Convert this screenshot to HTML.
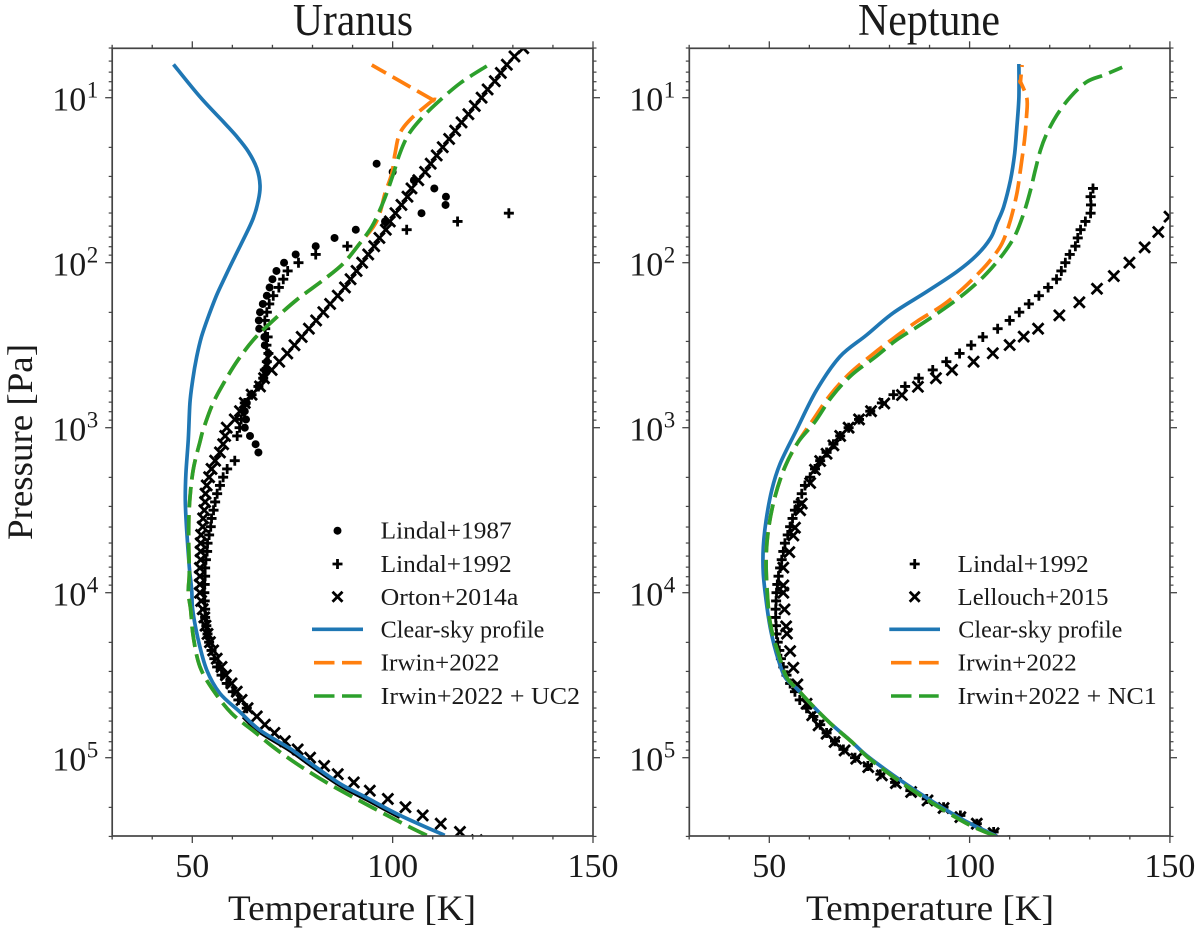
<!DOCTYPE html>
<html lang="en">
<head>
<meta charset="utf-8">
<title>Uranus and Neptune temperature-pressure profiles</title>
<style>
html,body{margin:0;padding:0;background:#fff;width:1200px;height:934px;overflow:hidden}
svg{display:block}
text{font-family:"Liberation Serif",serif;fill:#1a1a1a}
.leg{font-size:24px}
</style>
</head>
<body>
<svg id="chart" xmlns="http://www.w3.org/2000/svg" width="1200" height="934" viewBox="0 0 1200 934">
<rect width="1200" height="934" fill="#fff"/>
<defs>
<clipPath id="clip-u"><rect x="112.2" y="48.3" width="480.8" height="787.7"/></clipPath>
<clipPath id="clip-n"><rect x="689.3" y="48.3" width="480.7" height="787.7"/></clipPath>
</defs>
<g id="panel-u"></g>
<g id="panel-n"></g>

<text x="353" y="35" font-size="45" text-anchor="middle" textLength="120" lengthAdjust="spacingAndGlyphs">Uranus</text>
<text x="929" y="35" font-size="45" text-anchor="middle" textLength="142" lengthAdjust="spacingAndGlyphs">Neptune</text>
<text x="352" y="920" font-size="36" text-anchor="middle" textLength="248" lengthAdjust="spacingAndGlyphs">Temperature [K]</text>
<text x="930" y="920" font-size="36" text-anchor="middle" textLength="248" lengthAdjust="spacingAndGlyphs">Temperature [K]</text>
<text transform="translate(32,442) rotate(-90)" font-size="36" text-anchor="middle" textLength="196" lengthAdjust="spacingAndGlyphs">Pressure [Pa]</text>

<g>
  <circle cx="337.5" cy="530.7" r="4" fill="#000"/>
  <path d="M332.5 564H342.5M337.5 559V569" stroke="#000" stroke-width="2.8" fill="none"/>
  <path d="M332.5 591.7L342.5 601.7M342.5 591.7L332.5 601.7" stroke="#000" stroke-width="2.8" fill="none"/>
  <line x1="312" x2="363" y1="629.3" y2="629.3" stroke="#1f77b4" stroke-width="3.6"/>
  <path d="M314 662.7H334.5M342 662.7H361.7" stroke="#ff7f0e" stroke-width="3.6" fill="none"/>
  <path d="M314 696H334.5M342 696H361.7" stroke="#2ca02c" stroke-width="3.6" fill="none"/>
  <text class="leg" x="380.7" y="538.5" textLength="131" lengthAdjust="spacingAndGlyphs">Lindal+1987</text>
  <text class="leg" x="380.7" y="571.8" textLength="131" lengthAdjust="spacingAndGlyphs">Lindal+1992</text>
  <text class="leg" x="380.7" y="604.8" textLength="137.7" lengthAdjust="spacingAndGlyphs">Orton+2014a</text>
  <text class="leg" x="380.7" y="637.5" textLength="163.7" lengthAdjust="spacingAndGlyphs">Clear-sky profile</text>
  <text class="leg" x="380.7" y="670.5" textLength="118.7" lengthAdjust="spacingAndGlyphs">Irwin+2022</text>
  <text class="leg" x="380.7" y="704" textLength="199.3" lengthAdjust="spacingAndGlyphs">Irwin+2022 + UC2</text>
</g>

<g>
  <path d="M909.7 564H919.7M914.7 559V569" stroke="#000" stroke-width="2.8" fill="none"/>
  <path d="M909.7 591.7L919.7 601.7M919.7 591.7L909.7 601.7" stroke="#000" stroke-width="2.8" fill="none"/>
  <line x1="889.3" x2="940" y1="629.3" y2="629.3" stroke="#1f77b4" stroke-width="3.6"/>
  <path d="M891 662.7H911.5M919 662.7H938.7" stroke="#ff7f0e" stroke-width="3.6" fill="none"/>
  <path d="M891 696H911.5M919 696H938.7" stroke="#2ca02c" stroke-width="3.6" fill="none"/>
  <text class="leg" x="957.7" y="571.8" textLength="131" lengthAdjust="spacingAndGlyphs">Lindal+1992</text>
  <text class="leg" x="957.7" y="604.8" textLength="150.7" lengthAdjust="spacingAndGlyphs">Lellouch+2015</text>
  <text class="leg" x="958.3" y="637.5" textLength="164" lengthAdjust="spacingAndGlyphs">Clear-sky profile</text>
  <text class="leg" x="957.7" y="670.5" textLength="119" lengthAdjust="spacingAndGlyphs">Irwin+2022</text>
  <text class="leg" x="957.7" y="704" textLength="199" lengthAdjust="spacingAndGlyphs">Irwin+2022 + NC1</text>
</g>
</svg>

<script>
// Tick values
const xMajorTicks = [50, 100, 150];
const xMinorTicks = [30, 40, 60, 70, 80, 90, 110, 120, 130, 140];
const yMajorExponents = [1, 2, 3, 4, 5];
const yMinorMultipliers = [2, 3, 4, 5, 6, 7, 8, 9];

// Uranus: temperature in K and log10(pressure / Pa)
const uranusClearT = [45.3,51.9,57.7,61.1,64,66.1,66.9,66.5,65.2,63.1,60.6,58.2,56.1,54,52.3,51.1,50.1,49.4,49,48.4,48.25,48.6,49.25,49.85,50.1,51.5,53.6,56.9,61.9,66.9,74.4,80.2,86.9,93.5,101.8,113];
const uranusClearP = [0.798,0.994,1.145,1.236,1.327,1.428,1.529,1.62,1.731,1.842,1.964,2.085,2.196,2.327,2.448,2.57,2.711,2.853,3.07,3.279,3.44,3.622,3.844,3.984,4.105,4.287,4.468,4.61,4.723,4.834,4.945,5.046,5.158,5.242,5.349,5.471];
const uranusIrwinT = [94.8,110.1,110.1,104.7,101.8,100.6,99.8,98.1,96.8,95.2,91.8,87.7,82.7,76,69.4,65.2,61.1,57.3,54.8,52.7,51.9,50.2,49.25,49.1,49.25,49,49.6,50.25,51.9,55.2,59.8,65.6,70.2,76,81.9,88.5,101.8,108.5];
const uranusIrwinP = [0.802,1.014,1.014,1.125,1.216,1.337,1.459,1.58,1.7,1.782,1.883,2.004,2.105,2.226,2.368,2.469,2.6,2.752,2.873,3.014,3.087,3.259,3.48,3.683,3.885,3.998,4.105,4.267,4.448,4.59,4.731,4.844,4.935,5.036,5.127,5.218,5.39,5.471];
const uranusCloudT = [123.5,116.8,111,106.8,103.9,101.8,100.2,98.5,96.8,94.8,91.8,87.7,82.7,76,69.4,65.2,61.1,57.3,54.8,52.7,51.9,50.2,49.25,49.1,49.25,49,49.6,50.25,51.9,55.2,59.8,65.6,70.2,76,81.9,88.5,101.8,108.5];
const uranusCloudP = [0.808,0.913,1.034,1.135,1.226,1.337,1.459,1.58,1.681,1.782,1.883,2.004,2.105,2.226,2.368,2.469,2.6,2.752,2.873,3.014,3.087,3.259,3.48,3.683,3.885,3.998,4.105,4.267,4.448,4.59,4.731,4.844,4.935,5.036,5.127,5.218,5.39,5.471];
const lindal87T = [96,100,105.3,110.4,113.3,113.2,107.2,98.1,90.8,85.5,80.8,75.8,72.9,71,70,69.3,68.6,67.6,66.9,66.6,66.7,68,68.1,69,68.6,68.1,67.7,66.5,64.8,63.6,63.1,63.4,63.1,64.4,65.8,66.5];
const lindal87P = [1.4,1.45,1.5,1.55,1.6,1.65,1.7,1.75,1.8,1.85,1.9,1.95,2,2.05,2.1,2.15,2.2,2.25,2.3,2.35,2.4,2.45,2.5,2.55,2.6,2.65,2.7,2.75,2.8,2.85,2.9,2.95,3,3.05,3.1,3.15];
const lindal92UranusT = [129,116.2,103.5,88.7,80.8,76.5,73.8,72.7,71.6,70.2,69.2,68.6,68.1,68.2,68.8,68.5,69,68.6,68.1,67.7,66.5,64.8,63.1,62.7,62.2,61.8,61.2,60.6,58.7,57.7,56.9,56.2,55.7,55.3,54.8,54.6,54.2,53.8,53.7,53.4,53.2,53.2,53.1,53,53.1,53.2,53.2,53.5,53.8,54.2,54.8,55.5,56.2,57.3,58.6,60.1,61.5,63.6];
const lindal92UranusP = [1.7,1.75,1.8,1.9,1.95,2,2.05,2.1,2.15,2.2,2.25,2.3,2.35,2.4,2.45,2.5,2.55,2.6,2.65,2.7,2.75,2.8,2.85,2.9,2.95,3,3.05,3.2,3.25,3.3,3.35,3.4,3.45,3.5,3.55,3.6,3.65,3.7,3.75,3.8,3.85,3.9,3.95,4,4.05,4.1,4.15,4.2,4.25,4.3,4.35,4.4,4.45,4.5,4.55,4.6,4.65,4.7];
const lindal92TraceT = [62.7,66.9,74.4,80.2,86.9,93.5,101.8];
const lindal92TraceP = [4.752,4.844,4.956,5.057,5.168,5.253,5.36];
const ortonT = [132.6,130.4,128.5,127,125.5,123.7,122.2,120.5,118.9,117.2,115.6,114.1,112.5,111,109.5,108.1,106.4,104.7,103.7,102.2,100.7,99.3,98.3,96.7,95.4,93.9,92.4,91,89.5,88.1,86.3,84.4,82.7,80.9,79.1,77.3,75.5,73.7,71.7,69.8,67.9,66.9,64.8,63.1,61.9,60.6,58.6,58.2,57.7,56.9,55.7,54.8,54.2,53.6,53.3,53.2,53,52.7,52.6,52.2,52.1,52.1,52.1,51.9,51.9,51.9,51.9,52.2,52.6,53,53.3,53.8,54.4,55.2,56.1,57.3,58.4,59.8,61.1,62.3,63.8,66.1,68.1,70.5,73.1,76.3,79.4,82.9,86.3,90.3,94.3,98.8,103.2,107.5,112,116.8,121];
const ortonP = [0.7,0.75,0.8,0.85,0.9,0.95,1,1.05,1.1,1.15,1.2,1.25,1.3,1.35,1.4,1.45,1.5,1.55,1.6,1.65,1.7,1.75,1.8,1.85,1.9,1.95,2,2.05,2.1,2.15,2.2,2.25,2.3,2.35,2.4,2.45,2.5,2.55,2.6,2.65,2.7,2.75,2.8,2.85,2.9,2.95,3,3.05,3.1,3.15,3.2,3.25,3.3,3.35,3.4,3.45,3.5,3.55,3.6,3.65,3.7,3.75,3.8,3.85,3.9,3.95,4,4.05,4.1,4.15,4.2,4.25,4.3,4.35,4.4,4.45,4.5,4.55,4.6,4.65,4.7,4.75,4.8,4.85,4.9,4.95,5,5.05,5.1,5.15,5.2,5.25,5.3,5.35,5.4,5.45,5.5];

// Neptune: temperature in K and log10(pressure / Pa)
const neptuneClearT = [112.3,112.3,111.8,111.25,110.2,108.5,106.8,105.2,101.8,96.8,89.3,80.9,74.3,67.6,61.8,56.8,52.7,50.6,49.2,48.5,48.5,49.2,50.2,51.8,53.9,56.8,60.6,65.2,70.2,74.3,81,87.7,94.3,100.2,106.8];
const neptuneClearP = [0.796,1,1.176,1.337,1.499,1.661,1.762,1.853,1.954,2.055,2.176,2.305,2.438,2.57,2.772,3.014,3.218,3.38,3.562,3.723,3.885,4.046,4.208,4.37,4.511,4.58,4.68,4.79,4.895,4.986,5.107,5.218,5.319,5.4,5.475];
const neptuneIrwinT = [113.1,112.7,112.7,114.3,114.2,113.7,112.8,111.8,110.2,108.1,105.2,102.6,98.4,93.4,86.8,81,75.6,70.1,65.2,60.9,57.2,53.9,51.4,49.75,49.2,49.75,50.6,52.3,54.3,57.2,61,65.6,70.6,74.5,81,87.7,94.3,100.2,106.4];
const neptuneIrwinP = [0.802,0.903,0.903,1.004,1.115,1.257,1.418,1.58,1.741,1.883,1.984,2.055,2.155,2.256,2.357,2.458,2.559,2.67,2.802,2.953,3.087,3.238,3.42,3.622,3.824,4.087,4.228,4.37,4.511,4.59,4.69,4.8,4.905,4.996,5.117,5.228,5.329,5.41,5.475];
const neptuneCloudT = [138.1,133.5,129.3,125.2,121.8,119.3,117.7,116.4,115.2,113.5,111.4,108.5,104.3,99.3,93.4,87.6,81.8,76.4,70.6,65.6,61.4,57.2,53.9,51.4,49.75,49.2,49.75,50.6,52.3,54.3,57.2,61,65.6,70.6,74.5,81,87.7,94.3,100.2,106.4];
const neptuneCloudP = [0.816,0.863,0.903,0.994,1.105,1.216,1.317,1.438,1.56,1.701,1.832,1.943,2.064,2.176,2.283,2.378,2.468,2.573,2.68,2.812,2.964,3.087,3.238,3.42,3.622,3.824,4.087,4.228,4.37,4.511,4.59,4.69,4.8,4.905,4.996,5.117,5.228,5.329,5.41,5.475];
const lindal92NeptuneT = [130.8,130.2,130.3,130.2,128.9,127.7,127,126.4,125,123.9,122.9,121.7,119.6,117.3,114.8,112.4,110,107,103.3,100.4,97.5,94.2,90.8,87.3,83.9,81,78.1,75.2,72.4,69.8,67.7,66,64.3,62.7,61.4,60.2,58.9,58.1,57.2,56.4,55.8,55.2,54.6,53.9,53.5,53.1,52.7,52.3,52,51.8,51.7,51.6,51.6,51.7,51.8,52.1,52.5,52.9,53.5,54.3,55.2,56.4,57.6,59.3,61,62.7,64.3,66.4,68.5,71.4,74.6,77.7,81.4,85.2,89.3,93.5,97.7,101.8,106,109.8];
const lindal92NeptuneP = [1.55,1.6,1.65,1.7,1.75,1.8,1.85,1.9,1.95,2,2.05,2.1,2.15,2.2,2.25,2.3,2.35,2.4,2.45,2.5,2.55,2.6,2.65,2.7,2.75,2.8,2.85,2.9,2.95,3,3.05,3.1,3.15,3.2,3.25,3.3,3.35,3.4,3.45,3.5,3.55,3.6,3.65,3.7,3.75,3.8,3.85,3.9,3.95,4,4.05,4.1,4.15,4.2,4.25,4.3,4.35,4.4,4.45,4.5,4.55,4.6,4.65,4.7,4.75,4.8,4.85,4.9,4.95,5,5.05,5.1,5.15,5.2,5.25,5.3,5.35,5.4,5.45,5.5];
const lellouchT = [149.9,147.1,143.7,139.9,136,131.8,127.4,122.4,117.1,113.5,110,105.8,101,95.6,91.6,87.1,83.1,78.7,75.4,72.4,69.8,67.7,66,64.3,62.7,61.4,60.2,58.1,57.7,56.4,56,55,53.5,53.5,53.5,53.8,54.2,54.4,55.2,56,57,59.3,60.7,62.3,64.3,66.3,68.8,71.7,74.7,78.1,81.6,85.4,89.5,93.5,97.7,101.8,106];
const lellouchP = [1.721,1.814,1.907,2,2.081,2.158,2.24,2.319,2.4,2.448,2.499,2.549,2.6,2.65,2.7,2.752,2.802,2.853,2.9,2.95,3,3.05,3.107,3.158,3.202,3.255,3.335,3.46,3.5,3.606,3.653,3.754,3.848,3.956,4,4.101,4.204,4.248,4.354,4.455,4.556,4.673,4.743,4.804,4.855,4.905,4.956,5.006,5.057,5.107,5.154,5.208,5.259,5.305,5.36,5.4,5.457];

const SVG_NS = 'http://www.w3.org/2000/svg';
const AXIS_COLOR = '#444';
const yScale = exp => 97.7 + (exp - 1) * 165;
const uranusX = t => 192.3 + (t - 50) * 4.007;
const neptuneX = t => 769.3 + (t - 50) * 4.006;
const Y_TOP = 48.3, Y_BOTTOM = 836;

function make(tag, parent, attrs) {
  const el = document.createElementNS(SVG_NS, tag);
  for (const k in attrs) el.setAttribute(k, attrs[k]);
  parent.appendChild(el);
  return el;
}

function drawAxes(root, xs, left, right, prefix) {
  xMinorTicks.concat(xMajorTicks).forEach(t => {
    const len = xMajorTicks.includes(t) ? 7 : 3.5;
    [[Y_BOTTOM, Y_BOTTOM + len], [Y_TOP, Y_TOP - len]].forEach(([a, b]) => {
      const tick = make('line', root, {x1: xs(t), x2: xs(t), y1: a, y2: b, stroke: AXIS_COLOR, 'stroke-width': 1.3});
      
      
    });
  });
  xMajorTicks.forEach(t => {
    const label = make('text', root, {x: xs(t), y: 877, 'font-size': 34, 'text-anchor': 'middle'});
    
    
    label.textContent = t;
  });
  const labelX = left - 60;
  yMajorExponents.forEach(e => {
    [[left, left - 7], [right, right + 7]].forEach(([a, b]) => {
      const tick = make('line', root, {x1: a, x2: b, y1: yScale(e), y2: yScale(e), stroke: AXIS_COLOR, 'stroke-width': 1.3});
      
      
    });
    const base = make('text', root, {x: labelX, y: yScale(e) + 13, 'font-size': 34});
    
    
    base.textContent = '10';
    const sup = make('text', root, {x: labelX + 34.5, y: yScale(e), 'font-size': 23});
    
    
    sup.textContent = e;
  });
  [0].concat(yMajorExponents).forEach(e => {
    yMinorMultipliers.forEach(m => {
      const y = yScale(e + Math.log10(m));
      if (y < Y_TOP - 0.5 || y > Y_BOTTOM + 0.5) return;
      [[left, left - 3.5], [right, right + 3.5]].forEach(([a, b]) => {
        const tick = make('line', root, {x1: a, x2: b, y1: y, y2: y, stroke: AXIS_COLOR, 'stroke-width': 1.2});
        
        
      });
    });
  });
  const frame = make('rect', root, {x: left, y: Y_TOP, width: right - left, height: Y_BOTTOM - Y_TOP, fill: 'none', stroke: AXIS_COLOR, 'stroke-width': 1.7});
  
  
}

function drawMarkers(root, xs, temps, pressures, kind, seriesName) {
  const g = make('g', root, {});
  
  
  temps.forEach((t, i) => {
    const x = xs(t), y = yScale(pressures[i]);
    let m;
    if (kind === 'dot') {
      m = make('circle', g, {cx: x, cy: y, r: 4, fill: '#000'});
    } else if (kind === 'plus') {
      m = make('path', g, {d: `M${x - 5} ${y}H${x + 5}M${x} ${y - 5}V${y + 5}`, stroke: '#000', 'stroke-width': 2.8, fill: 'none'});
    } else {
      m = make('path', g, {d: `M${x - 5.4} ${y - 5.4}L${x + 5.4} ${y + 5.4}M${x + 5.4} ${y - 5.4}L${x - 5.4} ${y + 5.4}`, stroke: '#000', 'stroke-width': 2.8, fill: 'none'});
    }
    
    
  });
}

// Smooth curve through the samples, drawn from high pressure upward so that
// dashes of series sharing a lower branch stay in phase.
function curvePath(xs, temps, pressures) {
  const p = temps.map((t, i) => [xs(t), yScale(pressures[i])]).reverse();
  let d = `M${p[0][0].toFixed(1)} ${p[0][1].toFixed(1)}`;
  for (let i = 0; i < p.length - 1; i++) {
    const p0 = p[i - 1] || p[i], p1 = p[i], p2 = p[i + 1], p3 = p[i + 2] || p2;
    const c1x = p1[0] + (p2[0] - p0[0]) / 6, c1y = p1[1] + (p2[1] - p0[1]) / 6;
    const c2x = p2[0] - (p3[0] - p1[0]) / 6, c2y = p2[1] - (p3[1] - p1[1]) / 6;
    d += `C${c1x.toFixed(1)} ${c1y.toFixed(1)} ${c2x.toFixed(1)} ${c2y.toFixed(1)} ${p2[0].toFixed(1)} ${p2[1].toFixed(1)}`;
  }
  return d;
}

function drawLine(root, xs, temps, pressures, color, dash, width, seriesName) {
  const attrs = {d: curvePath(xs, temps, pressures), fill: 'none', stroke: color, 'stroke-width': width, 'stroke-linejoin': 'round'};
  if (dash) attrs['stroke-dasharray'] = dash;
  const line = make('path', root, attrs);
  
  
}

const DASH = '20.5 7.5';
const LINE_WIDTH = 3.7;
const uRoot = document.getElementById('panel-u');
const uPlot = make('g', uRoot, {'clip-path': 'url(#clip-u)'});


drawMarkers(uPlot, uranusX, lindal87T, lindal87P, 'dot', 'uranus-lindal-1987');
drawMarkers(uPlot, uranusX, lindal92UranusT, lindal92UranusP, 'plus', 'uranus-lindal-1992');
drawLine(uPlot, uranusX, lindal92TraceT, lindal92TraceP, '#000', null, 4, 'uranus-lindal-1992-dense-trace');
drawMarkers(uPlot, uranusX, ortonT, ortonP, 'cross', 'uranus-orton-2014a');
drawLine(uPlot, uranusX, uranusClearT, uranusClearP, '#1f77b4', null, LINE_WIDTH, 'uranus-clear-sky-profile');
drawLine(uPlot, uranusX, uranusIrwinT, uranusIrwinP, '#ff7f0e', DASH, LINE_WIDTH, 'uranus-irwin-2022');
drawLine(uPlot, uranusX, uranusCloudT, uranusCloudP, '#2ca02c', DASH, LINE_WIDTH, 'uranus-irwin-2022-uc2');
drawAxes(uRoot, uranusX, 112.2, 593, 'uranus');

const nRoot = document.getElementById('panel-n');
const nPlot = make('g', nRoot, {'clip-path': 'url(#clip-n)'});


drawMarkers(nPlot, neptuneX, lindal92NeptuneT, lindal92NeptuneP, 'plus', 'neptune-lindal-1992');
drawMarkers(nPlot, neptuneX, lellouchT, lellouchP, 'cross', 'neptune-lellouch-2015');
drawLine(nPlot, neptuneX, neptuneClearT, neptuneClearP, '#1f77b4', null, LINE_WIDTH, 'neptune-clear-sky-profile');
drawLine(nPlot, neptuneX, neptuneIrwinT, neptuneIrwinP, '#ff7f0e', DASH, LINE_WIDTH, 'neptune-irwin-2022');
drawLine(nPlot, neptuneX, neptuneCloudT, neptuneCloudP, '#2ca02c', DASH, LINE_WIDTH, 'neptune-irwin-2022-nc1');
drawAxes(nRoot, neptuneX, 689.3, 1170, 'neptune');
</script>
</body>
</html>
